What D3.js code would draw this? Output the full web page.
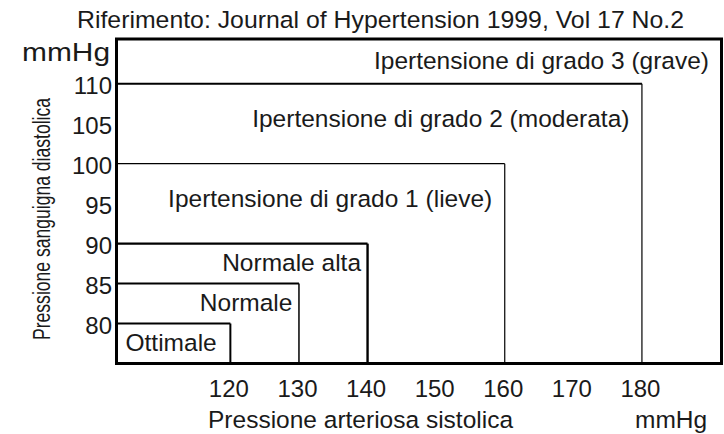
<!DOCTYPE html>
<html>
<head>
<meta charset="utf-8">
<script src="https://cdn.jsdelivr.net/npm/d3@7"></script>
<style>
  html, body { margin: 0; padding: 0; background: #fff; }
  svg text { font-family: "Liberation Sans", Arial, Helvetica, sans-serif; fill: #1a1a1a; }
</style>
</head>
<body>
<svg id="chart" width="724" height="434"></svg>
<script>
// Blood pressure classification (systolic / diastolic upper limits, mmHg)
const categories = [
  "Ottimale",
  "Normale",
  "Normale alta",
  "Ipertensione di grado 1 (lieve)",
  "Ipertensione di grado 2 (moderata)",
  "Ipertensione di grado 3 (grave)"
];
const systolicLimits = [120, 130, 140, 160, 180, null];   // null = open-ended
const diastolicLimits = [80, 85, 90, 100, 110, null];
const xTicks = [120, 130, 140, 150, 160, 170, 180];
const yTicks = [80, 85, 90, 95, 100, 105, 110];

const svg = d3.select("#chart");

const frame = { left: 116.5, right: 721.5, top: 39, bottom: 363.5 };

const x = d3.scaleLinear().domain([103.4, 191.6]).range([frame.left, frame.right]);
const y = d3.scaleLinear().domain([75, 115.6]).range([frame.bottom, frame.top]);

const xMax = x.domain()[1], yMax = y.domain()[1];
const sysOf = i => systolicLimits[i] == null ? xMax : systolicLimits[i];
const diaOf = i => diastolicLimits[i] == null ? yMax : diastolicLimits[i];

// Nested category boxes: top edge and right edge of each region
const topWidth = [2, 2, 2.4, 1.2, 2];
const rightWidth = [2, 1.5, 2.4, 1.2, 1.2];
const boxes = svg.append("g");
categories.forEach((c, i) => {
  if (systolicLimits[i] == null) return;
  boxes.append("line")
    .attr("x1", x.range()[0]).attr("x2", x(sysOf(i)))
    .attr("y1", y(diaOf(i))).attr("y2", y(diaOf(i)))
    .attr("stroke", "#000").attr("stroke-width", topWidth[i]);
  boxes.append("line")
    .attr("x1", x(sysOf(i))).attr("x2", x(sysOf(i)))
    .attr("y1", y(diaOf(i))).attr("y2", y.range()[0])
    .attr("stroke", "#000").attr("stroke-width", rightWidth[i]);
});

// Outer frame
svg.append("rect")
  .attr("x", frame.left).attr("y", frame.top)
  .attr("width", frame.right - frame.left).attr("height", frame.bottom - frame.top)
  .attr("fill", "none").attr("stroke", "#000").attr("stroke-width", 3);

// Category labels inside each band
const labels = svg.append("g").attr("font-size", "24.5px");
categories.forEach((c, i) => {
  const bandTop = y(diaOf(i));
  const bandBottom = i === 0 ? y.range()[0] : y(diaOf(i - 1));
  const mid = (bandTop + bandBottom) / 2;
  const base = mid + (bandBottom - bandTop > 60 ? 3.5 : 7.5);
  const t = labels.append("text").attr("y", base).text(c);
  if (i === 0) {
    t.attr("x", x.range()[0] + 9).attr("text-anchor", "start");
  } else {
    const pad = i < 3 ? 6.5 : 12.5;
    t.attr("x", x(sysOf(i)) - pad).attr("text-anchor", "end");
  }
});

// Axis tick labels (no tick marks)
const yAxis = d3.axisLeft(y).tickValues(yTicks).tickSize(0).tickPadding(0);
const gy = svg.append("g").attr("transform", "translate(112,0)").call(yAxis);
gy.select(".domain").remove();
gy.selectAll("text")
  .attr("font-size", "24px")
  .attr("dy", null)
  .attr("y", 10)
  .attr("x", 0)
  .attr("fill", "#1a1a1a");

const xAxis = d3.axisBottom(x).tickValues(xTicks).tickSize(0).tickPadding(0);
const gx = svg.append("g").attr("transform", "translate(-2,0)").call(xAxis);
gx.select(".domain").remove();
gx.selectAll("text")
  .attr("font-size", "24px")
  .attr("dy", null)
  .attr("y", 397)
  .attr("fill", "#1a1a1a");

// Titles and units
svg.append("text")
  .attr("x", 77).attr("y", 28)
  .attr("font-size", "24.5px")
  .attr("textLength", 607).attr("lengthAdjust", "spacingAndGlyphs")
  .text("Riferimento: Journal of Hypertension 1999, Vol 17 No.2");

svg.append("text")
  .attr("x", 22).attr("y", 61)
  .attr("font-size", "25px")
  .attr("textLength", 88).attr("lengthAdjust", "spacingAndGlyphs")
  .text("mmHg");

svg.append("text")
  .attr("transform", "translate(50,219) rotate(-90)")
  .attr("text-anchor", "middle")
  .attr("font-size", "23px")
  .attr("textLength", 242).attr("lengthAdjust", "spacingAndGlyphs")
  .text("Pressione sanguigna diastolica");

svg.append("text")
  .attr("x", 208).attr("y", 428)
  .attr("font-size", "24.5px")
  .text("Pressione arteriosa sistolica");

svg.append("text")
  .attr("x", 635).attr("y", 428)
  .attr("font-size", "24.5px")
  .text("mmHg");
</script>
</body>
</html>
